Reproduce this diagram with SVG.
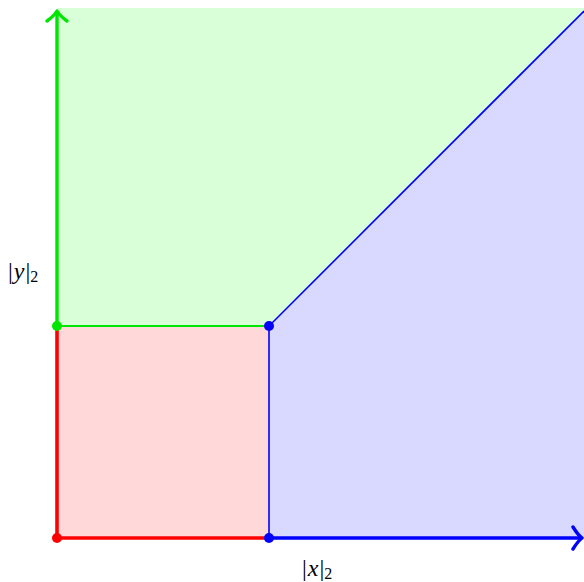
<svg xmlns="http://www.w3.org/2000/svg" width="584" height="582" viewBox="0 0 584 582">
  <style>
    .lbl { font-family: 'Liberation Serif', 'Times New Roman', serif; font-size: 24px; fill: #000; }
    .it { font-style: italic; }
    .sub { font-size: 16px; }
    .axis { fill: none; stroke-width: 3.4; stroke-linecap: round; stroke-linejoin: round; }
  </style>
  <rect width="584" height="582" fill="#ffffff"/>

  <!-- regions -->
  <g id="region-green">
    <polygon points="57,326 57,8 584,8 584,11 269,326" fill="#d9ffd9"/>
  </g>
  <g id="region-red">
    <rect x="57" y="326" width="212" height="212" fill="#ffd9d9"/>
  </g>
  <g id="region-blue">
    <polygon points="269,538 269,326 584,11 584,538" fill="#d9d9ff"/>
  </g>

  <g id="connectors">
    <!-- boundaries -->
    <line x1="57" y1="326" x2="269" y2="326" stroke="#00e600" stroke-width="2"/>
    <line x1="269" y1="326" x2="269" y2="538" stroke="#0000ff" stroke-width="1.6"/>
    <line x1="269" y1="326" x2="584" y2="11" stroke="#0000ff" stroke-width="1.6"/>
    <!-- red square edges on axes -->
    <line x1="57" y1="538" x2="57" y2="326" stroke="#ff0000" stroke-width="3.6"/>
    <line x1="57" y1="538" x2="269" y2="538" stroke="#ff0000" stroke-width="3.6"/>
    <!-- axes -->
    <g id="axis-y">
      <line x1="57" y1="326" x2="57" y2="13" class="axis" stroke="#00e600"/>
      <path d="M47,21 Q54,16 57,11 Q60,16 67,21" class="axis" stroke="#00e600"/>
    </g>
    <g id="axis-x">
      <line x1="269" y1="538" x2="580" y2="538" class="axis" stroke="#0000ff"/>
      <path d="M573,527 Q578,535 582,538 Q578,541 573,549" class="axis" stroke="#0000ff"/>
    </g>
  </g>

  <!-- vertices -->
  <g id="vertex-origin"><circle cx="57" cy="538" r="5" fill="#ff0000"/></g>
  <g id="vertex-y"><circle cx="57" cy="326" r="5" fill="#00e600"/></g>
  <g id="vertex-corner"><circle cx="269" cy="326" r="5" fill="#0000ff"/></g>
  <g id="vertex-x"><circle cx="269" cy="538" r="5" fill="#0000ff"/></g>

  <!-- axis labels -->
  <g id="label-y">
    <text x="8" y="279" class="lbl">|<tspan class="it" dx="1">y</tspan><tspan dx="1">|</tspan><tspan class="sub" dy="3">2</tspan></text>
  </g>
  <g id="label-x">
    <text x="302" y="576" class="lbl">|<tspan class="it" dx="1">x</tspan><tspan dx="1">|</tspan><tspan class="sub" dy="3">2</tspan></text>
  </g>
</svg>
